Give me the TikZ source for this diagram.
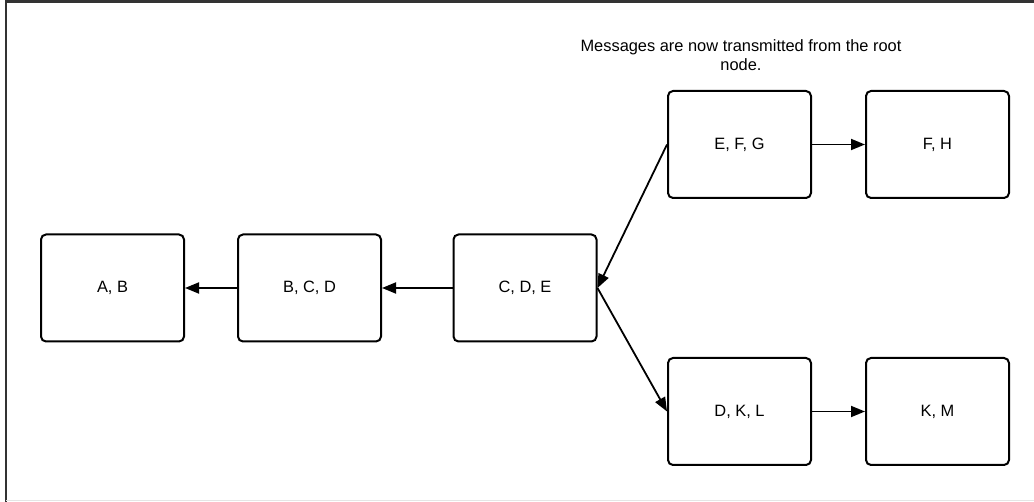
\documentclass[tikz,border=0pt]{standalone}
\usepackage{fontspec}
\setmainfont{Liberation Sans}
\usetikzlibrary{arrows.meta}

\begin{document}
\begin{tikzpicture}[
  x=1pt, y=-1pt,
  tree/.style={draw, line width=2pt, rounded corners=5pt, minimum width=143pt, minimum height=107pt, inner sep=0pt, font=\fontsize{16.4}{19}\selectfont},
  msg/.style={-{Triangle[length=14pt, width=11pt]}, line width=1.8pt}
]
  \useasboundingbox (0,0) rectangle (1034,502);
  % frame
  \draw[line width=2.2pt, black!80] (1034,1.5) -- (6,1.5) -- (6,502);
  \draw[line width=1.2pt, black!10] (6,500.5) -- (1034,500.5);

  \node[align=center, font=\fontsize{16.4}{19.5}\selectfont] (note) at (741,55) {Messages are now transmitted from the root\\node.};

  \node[tree] (ab)  at (112.5,288) {A, B};
  \node[tree] (bcd) at (309.5,288) {B, C, D};
  \node[tree] (cde) at (525,288)   {C, D, E};
  \node[tree] (efg) at (739.5,144.5) {E, F, G};
  \node[tree] (fh)  at (937.5,144.5) {F, H};
  \node[tree] (dkl) at (739.5,411.5) {D, K, L};
  \node[tree] (km)  at (937.5,411.5) {K, M};

  \draw[msg] (cde.west) -- (bcd.east);
  \draw[msg] (bcd.west) -- (ab.east);
  \draw[msg] (efg.west) -- (cde.east);
  \draw[msg] (cde.east) -- (dkl.west);
  \draw[msg] (efg.east) -- (fh.west);
  \draw[msg] (dkl.east) -- (km.west);
\end{tikzpicture}
\end{document}
